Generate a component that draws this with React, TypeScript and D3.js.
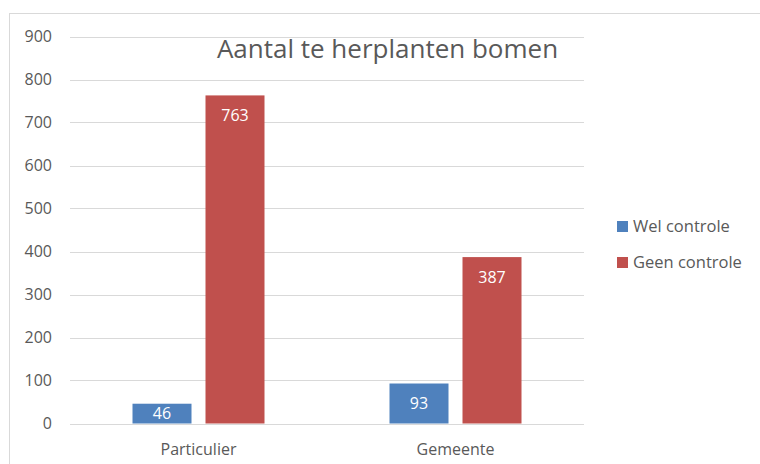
import React from "react";
import * as d3 from "d3";

const categories = ["Particulier", "Gemeente"];
const seriesNames = ["Wel controle", "Geen controle"];
const welControle = [46, 93];
const geenControle = [763, 387];
const yTicks = [0, 100, 200, 300, 400, 500, 600, 700, 800, 900];
const colors = ["#4f81bd", "#c0504d"];
const title = "Aantal te herplanten bomen";

const FONT = "'Open Sans', 'DejaVu Sans', sans-serif";
const TEXT = "#595959";

export default function App() {
  const W = 760, H = 464;
  const left = 70, right = 584, top = 36.5, bottom = 423.5;
  const y = d3.scaleLinear().domain([0, 900]).range([bottom, top]);
  const x0 = d3.scaleBand<string>().domain(categories).range([left, right]).paddingInner(0).paddingOuter(0);
  const x1 = d3.scaleBand<string>().domain(seriesNames).range([0, 132]).paddingInner(14 / 73).paddingOuter(0);
  const seriesValues = [welControle, geenControle];

  return (
    <svg width={W} height={H} style={{ position: "absolute", left: 0, top: 0, background: "#fff" }} fontFamily={FONT}>
      <rect x={9.5} y={13.5} width={800} height={500} fill="#fff" stroke="#d9d9d9" strokeWidth={1} />
      {yTicks.map((t) => (
        <g key={t}>
          <line x1={left} x2={right} y1={Math.round(y(t)) + 0.5} y2={Math.round(y(t)) + 0.5} stroke="#d9d9d9" strokeWidth={1.2} />
          <text x={52} y={y(t)} dy="0.36em" textAnchor="end" fontSize={16} fill={TEXT}>{t}</text>
        </g>
      ))}
      {categories.map((c, ci) => {
        const bw = x0.bandwidth();
        const groupStart = (x0(c) as number) + bw / 2 - 66;
        return (
          <g key={c}>
            {seriesNames.map((s, si) => {
              const v = seriesValues[si][ci];
              const bx = groupStart + (x1(s) as number);
              const by = y(v);
              const w = x1.bandwidth();
              const ly = Math.min(by + 20, bottom - 10);
              return (
                <g key={s}>
                  <rect x={bx} y={by} width={w} height={bottom - by} fill={colors[si]} />
                  <text x={bx + w / 2} y={ly} dy="0.36em" textAnchor="middle" fontSize={16} fill="#fff">{v}</text>
                </g>
              );
            })}
            <text x={(x0(c) as number) + bw / 2} y={449} dy="0.36em" textAnchor="middle" fontSize={16} fill={TEXT}>{c}</text>
          </g>
        );
      })}
      <text x={387.5} y={58} textAnchor="middle" fontSize={26} fill={TEXT}>{title}</text>
      {seriesNames.map((s, i) => (
        <g key={s}>
          <rect x={617} y={221 + i * 36} width={11} height={11} fill={colors[i]} />
          <text x={633} y={226.5 + i * 36} dy="0.36em" fontSize={16.5} fill={TEXT}>{s}</text>
        </g>
      ))}
    </svg>
  );
}
